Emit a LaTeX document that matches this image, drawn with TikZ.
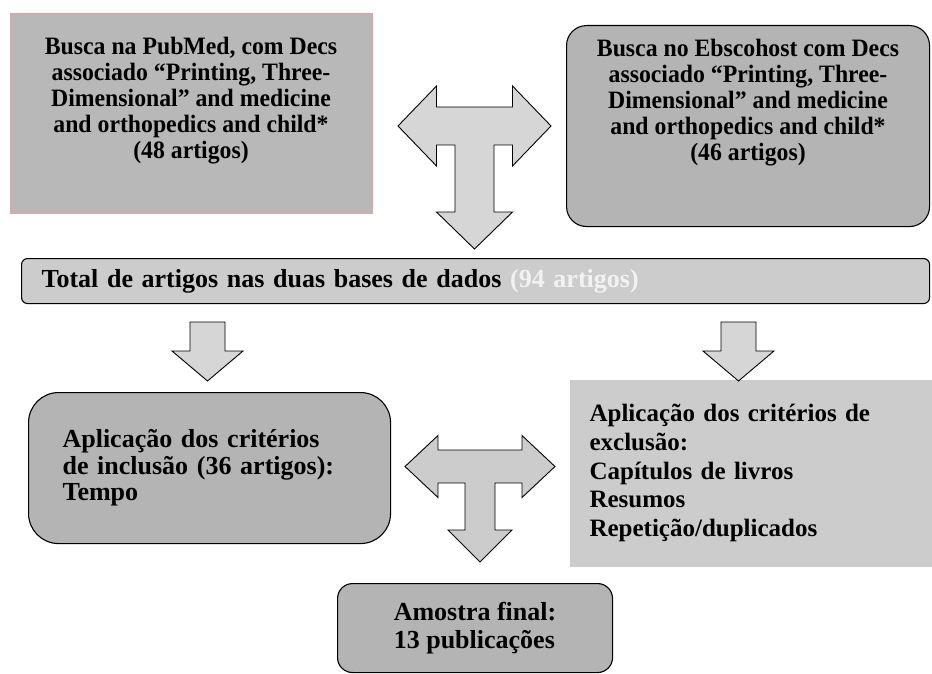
\documentclass[tikz,border=0pt]{standalone}
\usepackage{fontspec}
\setmainfont{Liberation Serif}
\newfontfamily\narrowserif{Liberation Serif}[FakeStretch=0.95]
\usepackage{xcolor}
\usetikzlibrary{positioning,calc}

\definecolor{boxgray}{HTML}{B4B4B4}
\definecolor{panelgray}{HTML}{CCCCCC}
\definecolor{arrowgray}{HTML}{D6D6D6}
\definecolor{pinkline}{HTML}{E8A0A0}

\begin{document}
\begin{tikzpicture}[
    x=1pt, y=-1pt,
    box/.style={draw=black, fill=boxgray, line width=1.1pt, anchor=north west},
    toptext/.style={align=center, font=\narrowserif\bfseries\fontsize{25}{26}\selectfont},
    bodytext/.style={align=left, font=\bfseries\fontsize{26}{26.5}\selectfont},
    blockarrow/.style={draw=black, fill=arrowgray, line width=0.9pt, line join=miter},
]
\useasboundingbox (0,0) rectangle (932,674);

% Search boxes
\node[box, draw=pinkline, fill=boxgray!95!white, minimum width=362pt, minimum height=200pt] (pubmed) at (10,13) {};
\node[box, rounded corners=20pt, minimum width=363pt, minimum height=201pt] (ebsco) at (566,25) {};

\node[toptext] (pubmedtxt) at (191,101) {Busca na PubMed, com Decs\\associado “Printing, Three-\\Dimensional” and medicine\\and orthopedics and child*\\(48 artigos)};
\node[toptext] (ebscotxt) at (748,103) {Busca no Ebscohost com Decs\\associado “Printing, Three-\\Dimensional” and medicine\\and orthopedics and child*\\(46 artigos)};

% Total
\node[box, fill=panelgray, rounded corners=6pt, minimum height=45pt, inner xsep=20pt, text width=868pt, bodytext] (total) at (21,258)
    {Total de artigos nas duas bases de dados \textcolor{white!95!black}{(94 artigos)}};

% Criteria
\node[box, rounded corners=30pt, minimum height=151pt, inner xsep=34pt, text width=294pt, bodytext] (inclusao) at (28,392)
    {Aplicação dos critérios\\de inclusão (36 artigos):\\Tempo};
\node[box, draw=none, fill=panelgray, minimum height=187pt, inner xsep=20pt, text width=323pt, bodytext, font=\bfseries\fontsize{25}{28.7}\selectfont] (exclusao) at (569,379)
    {Aplicação dos critérios de\\exclusão:\\Capítulos de livros\\Resumos\\Repetição/duplicados};

% Final sample
\node[box, rounded corners=15pt, minimum width=275pt, minimum height=89pt, align=center, bodytext, font=\bfseries\fontsize{26}{28}\selectfont] (final) at (337,583)
    {Amostra final:\\13 publicações};

% Block arrows
\coordinate (teetop) at (474.5,126);
\coordinate (teelow) at (480,466.5);
\coordinate (downl) at (207.5,322);
\coordinate (downr) at (738.5,322);

\draw[blockarrow] ($(teetop)+(-76.5,0)$) -- ++(38.5,-40) -- ++(0,21) -- ++(76,0) -- ++(0,-21)
    -- ++(38.5,40) -- ++(-38.5,40) -- ++(0,-21) -- ++(-18.5,0) -- ++(0,67) -- ++(18.5,0)
    -- ++(-38,37) -- ++(-38,-37) -- ++(18.5,0) -- ++(0,-67) -- ++(-18.5,0) -- ++(0,21) -- cycle;

\draw[blockarrow, fill=panelgray] ($(teelow)+(-75,0)$) -- ++(33,-31) -- ++(0,14.5) -- ++(84,0) -- ++(0,-14.5)
    -- ++(33,31) -- ++(-33,31) -- ++(0,-14.5) -- ++(-27,0) -- ++(0,47) -- ++(17,0)
    -- ++(-32,32) -- ++(-32,-32) -- ++(17,0) -- ++(0,-47) -- ++(-27,0) -- ++(0,14.5) -- cycle;

\foreach \c in {downl, downr}
    \draw[blockarrow] ($(\c)+(-17.5,0)$) -- ++(35,0) -- ++(0,29) -- ++(18,0) -- ++(-35.5,30)
        -- ++(-35.5,-30) -- ++(18,0) -- cycle;

\end{tikzpicture}
\end{document}
